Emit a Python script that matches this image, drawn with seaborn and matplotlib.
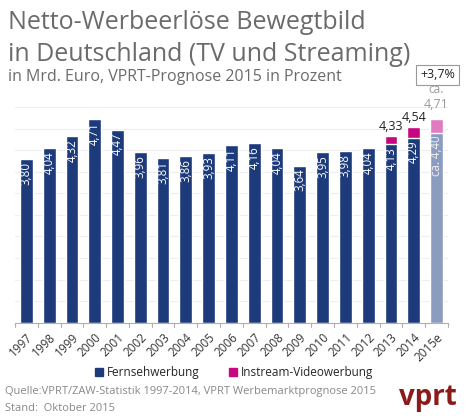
import numpy as np
import pandas as pd
import matplotlib
matplotlib.use('Agg')
import matplotlib.pyplot as plt
import seaborn as sns
from matplotlib.patches import Patch

# Data
years = ['1997', '1998', '1999', '2000', '2001', '2002', '2003', '2004', '2005', '2006',
         '2007', '2008', '2009', '2010', '2011', '2012', '2013', '2014', '2015e']
fernseh = [3.80, 4.04, 4.32, 4.71, 4.47, 3.96, 3.81, 3.86, 3.93, 4.11,
           4.16, 4.04, 3.64, 3.95, 3.98, 4.04, 4.13, 4.29, 4.40]
instream = [0, 0, 0, 0, 0, 0, 0, 0, 0, 0,
            0, 0, 0, 0, 0, 0, 0.20, 0.25, 0.31]
growth_label = '+3,7%'

sns.set_style("white")
plt.rcParams['font.family'] = ['Open Sans', 'DejaVu Sans']

navy, magenta = '#1d3a7b', '#c7077f'
navy_light, magenta_light = '#8c9cc0', '#e07bc0'
grey_text = '#6b6b6b'

df = pd.DataFrame({'year': years, 'fernseh': fernseh, 'instream': instream})
df['total'] = df['fernseh'] + df['instream']

fig = plt.figure(figsize=(4.68, 4.16), dpi=100)
ax = fig.add_axes([0.032, 0.224, 0.925, 0.519])

pal_total = [magenta] * 18 + [magenta_light]
pal_fern = [navy] * 18 + [navy_light]
sns.barplot(data=df, x='year', y='total', hue='year', palette=pal_total,
            legend=False, width=0.56, ax=ax, saturation=1)
sns.barplot(data=df, x='year', y='fernseh', hue='year', palette=pal_fern,
            legend=False, width=0.56, ax=ax, saturation=1)

ax.set_ylim(0, 5.0)
ax.set_xlim(-0.5, len(years) - 0.5)
ax.set_yticks(np.arange(0.5, 5.01, 0.5))
ax.yaxis.grid(True, color='#eeeeee', linewidth=0.8)
ax.set_axisbelow(True)
ax.tick_params(axis='y', left=False, labelleft=False)
for s in ['top', 'right', 'left']:
    ax.spines[s].set_visible(False)
ax.spines['bottom'].set_color('#b0b0b0')
ax.set_xlabel('')
ax.set_ylabel('')

# tick marks between categories
ax.set_xticks(np.arange(len(years)))
ax.set_xticklabels(years, rotation=45, ha='right', rotation_mode='anchor',
                   fontsize=8.5, color='#333333')
ax.tick_params(axis='x', length=0, pad=6)
for b in np.arange(-0.5, len(years), 1):
    ax.plot([b, b], [0, -0.09], color='#b0b0b0', lw=0.8, clip_on=False)

# bar labels
for i, v in enumerate(fernseh):
    txt = f'{v:.2f}'.replace('.', ',')
    col = 'white'
    if i == len(years) - 1:
        txt = 'ca. ' + txt
        col = '#f0f0f0'
    ax.text(i, v - 0.07, txt, rotation=90, ha='center', va='top',
            color=col, fontsize=8.3)
for i, (f, s) in enumerate(zip(fernseh, instream)):
    if s > 0:
        t = f'{f + s:.2f}'.replace('.', ',')
        col = '#9a9a9a' if i == len(years) - 1 else '#222222'
        off = 0.2 if i == len(years) - 1 else 0.06
        ax.text(i, f + s + off, t, ha='center', va='bottom', fontsize=9, color=col,
                clip_on=False)
ax.text(len(years) - 1, 5.0 + 0.25, 'ca.', ha='center', va='bottom',
        fontsize=8.5, color='#9a9a9a', clip_on=False)
ax.text(len(years) - 0.95, 5.0 + 0.74, growth_label, ha='center', va='center',
        fontsize=9, color='#222222', clip_on=False,
        bbox=dict(boxstyle='square,pad=0.3', fc='white', ec='#999999', lw=0.8))

# titles
fig.text(0.017, 0.975, 'Netto-Werbeerlöse Bewegtbild', fontsize=18, color=grey_text,
         va='top', ha='left')
fig.text(0.017, 0.898, 'in Deutschland (TV und Streaming)', fontsize=18, color=grey_text,
         va='top', ha='left')
fig.text(0.017, 0.834, 'in Mrd. Euro, VPRT-Prognose 2015 in Prozent', fontsize=11.5,
         color=grey_text, va='top', ha='left')

# legend
handles = [Patch(color=navy, label='Fernsehwerbung'),
           Patch(color=magenta, label='Instream-Videowerbung')]
fig.legend(handles=handles, loc='center', bbox_to_anchor=(0.5, 0.105), ncol=2,
           frameon=False, fontsize=8.5, handlelength=0.7, handleheight=0.7,
           handletextpad=0.3, columnspacing=2.5)

# source
fig.text(0.01, 0.058, 'Quelle:VPRT/ZAW-Statistik 1997-2014, VPRT Werbemarktprognose 2015',
         fontsize=8, color='#888888', va='center')
fig.text(0.01, 0.018, 'Stand:  Oktober 2015', fontsize=8, color='#888888', va='center')
fig.text(0.915, 0.045, 'vprt', fontsize=20, color='#8b1a1a', fontweight='bold',
         ha='center', va='center')

fig.savefig('out.png', dpi=100)
